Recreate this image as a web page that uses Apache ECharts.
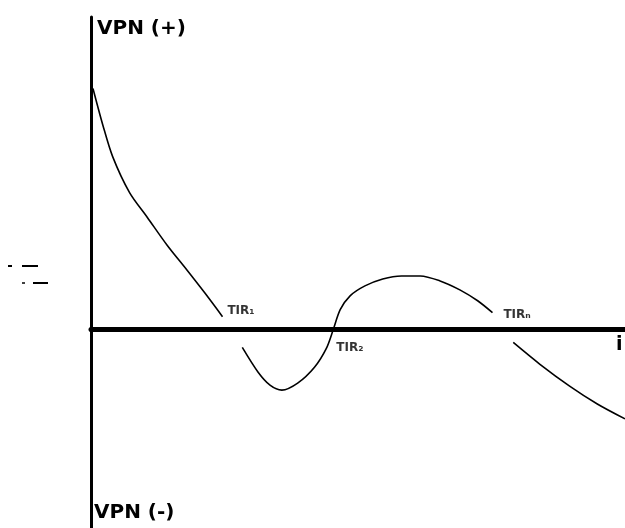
<!DOCTYPE html>
<html>
<head>
<meta charset="utf-8">
<title>VPN vs i</title>
<script src="https://cdn.jsdelivr.net/npm/echarts@6/dist/echarts.min.js"></script>
<style>
  html, body { margin: 0; padding: 0; background: #fff; }
  #chart { width: 625px; height: 528px; }
</style>
</head>
<body>
<div id="chart"></div>
<script>
// tasa de interes (i) y VPN, unidades arbitrarias
const rateX = [0.2, 1.2, 2.2, 3.9, 5.7, 7.7, 9.7, 11.5, 13.3, null,
  15.3, 16.9, 18.1, 19.3, 20.9, 22.6, 23.8, 24.5, 25.2, 26.2, 27.7, 29.5, 31.4, 33.3, 35.3, 37.3, 39.1, 40.6, null,
  42.7, 45.4, 48.4, 51.2, 54.0]
const vpnY = [24.3, 20.6, 17.4, 13.8, 11.3, 8.5, 6.0, 3.7, 1.3, null,
  -1.8, -4.3, -5.6, -6.1, -5.4, -3.8, -1.9, 0, 2.0, 3.4, 4.4, 5.1, 5.4, 5.4, 4.9, 4.0, 2.9, 1.7, null,
  -1.3, -3.5, -5.7, -7.5, -9.0]

// raices (TIR)
const tirX = [14.1, 24.5, 41.4]
const tirLabels = ['TIR₁', 'TIR₂', 'TIRₙ']

// desplazamiento de las etiquetas (px)
const tirOffsets = [[-3, -19], [3, 18], [3, -15]]

const chart = echarts.init(document.getElementById('chart'))

const curve = rateX.map((x, k) => (x === null ? [null, null] : [x, vpnY[k]]))

chart.setOption({
  animation: false,
  backgroundColor: '#fff',
  grid: { left: 91, right: 0, top: 17, bottom: 0 },
  xAxis: {
    type: 'value',
    min: 0,
    max: 54,
    axisLine: { show: true, onZero: true, lineStyle: { color: '#000', width: 5 } },
    axisTick: { show: false },
    axisLabel: { show: false },
    splitLine: { show: false }
  },
  yAxis: {
    type: 'value',
    min: -20,
    max: 31.5,
    axisLine: { show: true, lineStyle: { color: '#000', width: 3 } },
    axisTick: { show: false },
    axisLabel: { show: false },
    splitLine: { show: false }
  },
  series: [
    {
      name: 'VPN',
      type: 'line',
      smooth: 0.3,
      connectNulls: false,
      showSymbol: false,
      data: curve,
      lineStyle: { color: '#000', width: 1.6 }
    },
    {
      name: 'TIR',
      type: 'scatter',
      symbolSize: 0,
      data: tirX.map((x, k) => ({
        value: [x, 0],
        label: {
          show: true,
          formatter: tirLabels[k],
          position: tirOffsets[k],
          align: 'left',
          verticalAlign: 'middle',
          fontFamily: 'DejaVu Sans',
          fontWeight: 'bold',
          fontSize: 12,
          color: '#000'
        }
      }))
    }
  ],
  graphic: [
    { type: 'text', left: 97, top: 19, style: { text: 'VPN (+)', font: 'bold 20px "DejaVu Sans"', fill: '#000' } },
    { type: 'text', left: 94, top: 503, style: { text: 'VPN (-)', font: 'bold 20px "DejaVu Sans"', fill: '#000' } },
    { type: 'text', left: 616, top: 336, style: { text: 'i', font: 'bold 19px "DejaVu Sans"', fill: '#000' } },
    // trazos sueltos a la izquierda
    { type: 'line', shape: { x1: 8, y1: 266, x2: 12, y2: 266 }, style: { stroke: '#000', lineWidth: 2 } },
    { type: 'line', shape: { x1: 22, y1: 266, x2: 38, y2: 266 }, style: { stroke: '#000', lineWidth: 2 } },
    { type: 'line', shape: { x1: 22, y1: 283, x2: 25, y2: 283 }, style: { stroke: '#000', lineWidth: 1.5 } },
    { type: 'line', shape: { x1: 33, y1: 283, x2: 48, y2: 283 }, style: { stroke: '#000', lineWidth: 2 } }
  ]
})
</script>
</body>
</html>
